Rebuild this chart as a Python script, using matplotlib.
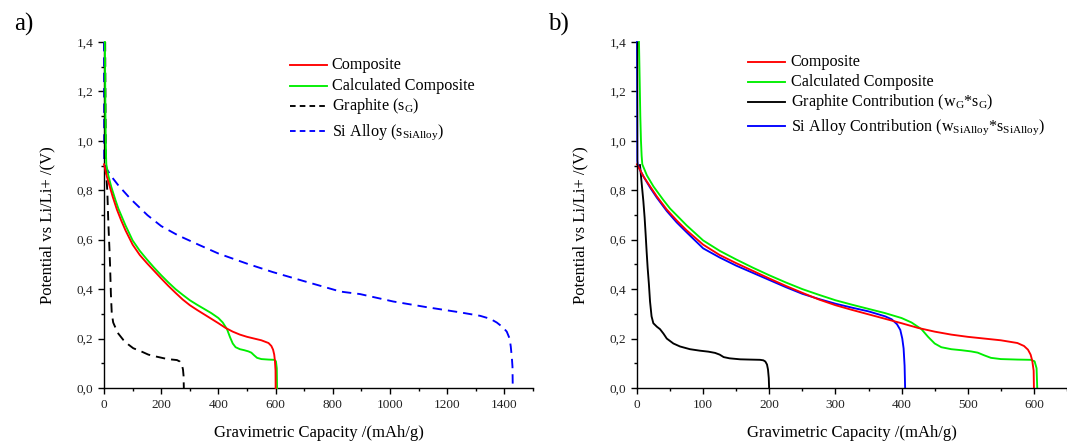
import matplotlib
matplotlib.use("Agg")
import matplotlib.pyplot as plt
from matplotlib.ticker import MultipleLocator, FuncFormatter

plt.rcParams['font.family'] = ['Liberation Serif', 'DejaVu Serif']
plt.rcParams['mathtext.fontset'] = 'custom'
plt.rcParams['mathtext.rm'] = 'Liberation Serif'
plt.rcParams['mathtext.it'] = 'Liberation Serif:italic'
plt.rcParams['mathtext.default'] = 'regular'

# Measured composite electrode
composite_x = [0, 5, 10, 20, 30, 45, 60, 75, 100, 125, 150, 175, 200, 225, 250,
               275, 300, 325, 350, 375, 400, 425, 450, 475, 500, 525, 550, 575,
               585, 591, 595, 597.5, 599.6, 600]
composite_y = [0.905, 0.88, 0.855, 0.815, 0.775, 0.722, 0.678, 0.638, 0.58, 0.538,
               0.505, 0.474, 0.443, 0.413, 0.385, 0.358, 0.335, 0.316, 0.298, 0.28,
               0.262, 0.243, 0.228, 0.216, 0.207, 0.2, 0.193, 0.182, 0.17, 0.155,
               0.135, 0.11, 0.07, 0.0]

# Composite calculated from the weighted components
calc_x = [3, 4, 5, 6, 7, 8, 15, 25, 40, 50, 75, 100, 125, 150, 175, 200, 225, 250,
          275, 300, 325, 350, 375, 400, 415, 430, 440, 450, 460, 475, 490, 505, 515,
          525, 535, 550, 575, 595, 601, 604, 605]
calc_y = [1.4, 1.25, 1.1, 1.0, 0.94, 0.905, 0.86, 0.815, 0.76, 0.726, 0.658, 0.597,
          0.555, 0.52, 0.487, 0.456, 0.427, 0.40, 0.377, 0.355, 0.337, 0.32, 0.303,
          0.283, 0.265, 0.238, 0.207, 0.18, 0.165, 0.157, 0.153, 0.148, 0.143,
          0.132, 0.122, 0.117, 0.115, 0.114, 0.108, 0.08, 0.0]

# Pure graphite electrode
graphite_x = [4, 5, 6, 8, 11.5, 15, 19, 21, 24, 27, 32, 38, 50, 67, 85, 102, 130,
              155, 183, 210, 230, 255, 265, 272, 276, 278, 279]
graphite_y = [1.4, 1.15, 0.95, 0.86, 0.796, 0.67, 0.56, 0.5, 0.38, 0.303, 0.265,
              0.249, 0.22, 0.195, 0.176, 0.161, 0.148, 0.135, 0.127, 0.12, 0.116,
              0.113, 0.107, 0.095, 0.075, 0.05, 0.0]

# Pure Si alloy electrode
sialloy_x = [0, 0.5, 3, 10, 27, 50, 92, 152, 200, 258, 330, 400, 500, 590, 700,
             827, 895, 1011, 1128, 1245, 1315, 1350, 1373, 1395, 1408, 1418, 1422,
             1426, 1428, 1429]
sialloy_y = [1.4, 0.92, 0.9, 0.885, 0.854, 0.82, 0.766, 0.699, 0.655, 0.618, 0.58,
             0.544, 0.503, 0.469, 0.432, 0.39, 0.38, 0.35, 0.327, 0.306, 0.292,
             0.28, 0.265, 0.245, 0.228, 0.2, 0.168, 0.12, 0.086, 0.0]

# Weighted graphite contribution
g_contrib_x = [4.5, 7, 9.6, 11.5, 13.1, 14.6, 16.1, 18, 19.7, 22, 24.7, 30, 34.8,
               40, 45, 55, 65, 80, 95, 108, 118, 125, 131, 140, 156, 170, 186, 191,
               194, 196.5, 198, 199.2, 199.7]
g_contrib_y = [0.902, 0.83, 0.756, 0.69, 0.62, 0.55, 0.486, 0.42, 0.35, 0.29, 0.262,
               0.248, 0.238, 0.22, 0.2, 0.18, 0.168, 0.157, 0.151, 0.147, 0.142,
               0.135, 0.125, 0.12, 0.116, 0.115, 0.114, 0.112, 0.107, 0.095, 0.075,
               0.04, 0.0]

# Weighted Si alloy contribution
si_contrib_x = [0, 0.5, 1, 5, 10, 20, 30, 45, 60, 75, 100, 125, 150, 175, 200, 225,
                250, 275, 300, 325, 350, 375, 385, 393, 398, 401, 403, 404.5, 405.3]
si_contrib_y = [1.4, 0.92, 0.905, 0.88, 0.855, 0.81, 0.77, 0.716, 0.67, 0.63,
                0.565, 0.528, 0.495, 0.466, 0.437, 0.408, 0.381, 0.36, 0.341, 0.325,
                0.31, 0.29, 0.278, 0.258, 0.235, 0.2, 0.16, 0.09, 0.0]

legend_a = ['Composite', 'Calculated Composite', 'Graphite (s$_{G}$)',
            'Si Alloy (s$_{SiAlloy}$)']
legend_b = ['Composite', 'Calculated Composite',
            'Graphite Contribution (w$_{G}$*s$_{G}$)',
            'Si Alloy Contribution (w$_{SiAlloy}$*s$_{SiAlloy}$)']

RED, GREEN, BLACK, BLUE = '#ff0000', '#00ee00', '#000000', '#0000ff'
LW = 1.35
DASH = (0, (5.0, 3.2))
LEG_DASH = (0, (3.0, 2.2))

fig = plt.figure(figsize=(10.67, 4.41), dpi=100)
ax_a = fig.add_axes([0.0975, 0.1202, 0.4021, 0.7846])
ax_b = fig.add_axes([0.5970, 0.1202, 0.4030, 0.7846])

comma = FuncFormatter(lambda v, p: f"{v:.1f}".replace('.', ','))


def style(ax, xmax, major, minor):
    ax.set_xlim(0, xmax)
    ax.set_ylim(0, 1.4)
    for s in ('top', 'right'):
        ax.spines[s].set_visible(False)
    for s in ('left', 'bottom'):
        ax.spines[s].set_linewidth(1.0)
    ax.xaxis.set_major_locator(MultipleLocator(major))
    ax.xaxis.set_minor_locator(MultipleLocator(minor))
    ax.yaxis.set_major_locator(MultipleLocator(0.2))
    ax.yaxis.set_minor_locator(MultipleLocator(0.1))
    ax.yaxis.set_major_formatter(comma)
    ax.tick_params(which='major', direction='out', length=4.3, width=1.0,
                   labelsize=9.5, labelcolor='#222222', pad=3.5)
    ax.tick_params(which='minor', direction='out', length=2.3, width=1.0)
    ax.set_xlabel('Gravimetric Capacity /(mAh/g)', fontsize=12, labelpad=10)
    ax.set_ylabel('Potential vs Li/Li+ /(V)', fontsize=12)
    ax.yaxis.set_label_coords(-0.114, 0.47)


def legend(ax, entries, labels, x0, x1, xt, ys):
    for (color, ls), label, y in zip(entries, labels, ys):
        ax.plot([x0, x1], [y, y], transform=ax.transAxes, color=color, ls=ls,
                lw=LW, clip_on=False)
        ax.text(xt, y - 0.013, label, transform=ax.transAxes, fontsize=11.6,
                va='baseline', ha='left')


# Panel a: measured electrodes
ax_a.plot(composite_x, composite_y, color=RED, lw=LW, clip_on=False, zorder=4)
ax_a.plot(calc_x, calc_y, color=GREEN, lw=LW, clip_on=False, zorder=3)
ax_a.plot(graphite_x, graphite_y, color=BLACK, lw=LW, ls=DASH, clip_on=False)
ax_a.plot(sialloy_x, sialloy_y, color=BLUE, lw=LW, ls=DASH, clip_on=False)
style(ax_a, 1500, 200, 100)
legend(ax_a, [(RED, '-'), (GREEN, '-'), (BLACK, LEG_DASH), (BLUE, LEG_DASH)],
       legend_a, 0.434, 0.520, 0.531, [0.934, 0.874, 0.815, 0.743])

# Panel b: weighted contributions
ax_b.plot(g_contrib_x, g_contrib_y, color=BLACK, lw=LW, clip_on=False)
ax_b.plot(si_contrib_x, si_contrib_y, color=BLUE, lw=LW, clip_on=False)
ax_b.plot(calc_x, calc_y, color=GREEN, lw=LW, clip_on=False)
ax_b.plot(composite_x, composite_y, color=RED, lw=LW, clip_on=False)
style(ax_b, 650, 100, 50)
legend(ax_b, [(RED, '-'), (GREEN, '-'), (BLACK, '-'), (BLUE, '-')],
       legend_b, 0.258, 0.344, 0.357, [0.943, 0.885, 0.827, 0.758])

fig.text(14 / 1067, 1 - 31 / 441, 'a)', fontsize=18, va='baseline', ha='left')
fig.text(548 / 1067, 1 - 31 / 441, 'b)', fontsize=18, va='baseline', ha='left')

fig.savefig('out.png', dpi=100)
